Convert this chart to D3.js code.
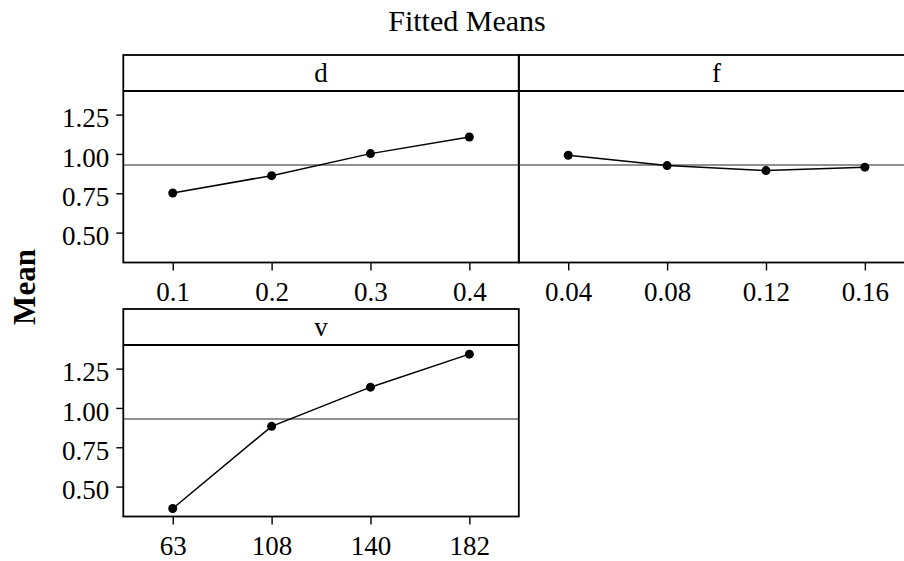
<!DOCTYPE html>
<html>
<head>
<meta charset="utf-8">
<script src="https://cdn.jsdelivr.net/npm/d3@7"></script>
<style>
  body { margin: 0; background: #fff; }
</style>
</head>
<body>
<div id="chart"></div>
<script>
// factor levels and fitted means
var panelNames = ["d", "f", "v"];
var dLevels = ["0.1", "0.2", "0.3", "0.4"];
var dMeans = [0.752, 0.862, 1.002, 1.108];
var fLevels = ["0.04", "0.08", "0.12", "0.16"];
var fMeans = [0.992, 0.926, 0.894, 0.916];
var vLevels = ["63", "108", "140", "182"];
var vMeans = [0.361, 0.883, 1.132, 1.342];
var grandMean = 0.93;
var yTicks = [0.50, 0.75, 1.00, 1.25];

var serif = '"Liberation Serif", "Times New Roman", serif';
var width = 904, height = 561;
var panelW = 395.5, stripH = 36, plotH = 171.5;

var svg = d3.select('#chart')
    .append('svg')
    .attr('width', width)
    .attr('height', height)
    .style('font-family', serif);

// panel layout
var panels = [
    { name: panelNames[0], levels: dLevels, means: dMeans, x: 123.3, y: 55, yaxis: true },
    { name: panelNames[1], levels: fLevels, means: fMeans, x: 518.8, y: 55, yaxis: false },
    { name: panelNames[2], levels: vLevels, means: vMeans, x: 123.3, y: 309, yaxis: true }
];

var y = d3.scaleLinear()
    .domain([0.31, 1.40])
    .range([plotH, 0]);

svg.append('text')
    .attr('x', 467)
    .attr('y', 31)
    .attr('text-anchor', 'middle')
    .style('font-family', serif)
    .style('font-size', '30px')
    .text('Fitted Means');

svg.append('text')
    .attr('transform', 'translate(35,287) rotate(-90)')
    .attr('text-anchor', 'middle')
    .style('font-family', serif)
    .style('font-size', '31px')
    .style('font-weight', 'bold')
    .text('Mean');

panels.forEach(function (p) {
    var g = svg.append('g')
        .attr('transform', 'translate(' + p.x + ',' + p.y + ')');

    var x = d3.scalePoint()
        .domain(p.levels)
        .range([0, panelW])
        .padding(0.5);

    var plot = g.append('g')
        .attr('transform', 'translate(0,' + stripH + ')');

    // x axis
    var xa = plot.append('g')
        .attr('transform', 'translate(0,' + plotH + ')')
        .call(d3.axisBottom(x).tickSize(8).tickPadding(11));
    xa.attr('font-family', null).attr('font-size', null);
    xa.select('.domain').remove();
    xa.selectAll('line').attr('stroke', '#000').attr('stroke-width', 1.4);
    xa.selectAll('text').style('font-family', serif).style('font-size', '27px');

    if (p.yaxis) {
        var ya = plot.append('g')
            .call(d3.axisLeft(y).tickValues(yTicks).tickFormat(d3.format('.2f')).tickSize(7).tickPadding(7));
        ya.attr('font-family', null).attr('font-size', null);
        ya.select('.domain').remove();
        ya.selectAll('line').attr('stroke', '#000').attr('stroke-width', 1.4);
        ya.selectAll('text').style('font-family', serif).style('font-size', '27px').attr('dy', '0.45em');
    }

    // grand mean reference line
    plot.append('line')
        .attr('x1', 0)
        .attr('x2', panelW)
        .attr('y1', y(grandMean))
        .attr('y2', y(grandMean))
        .attr('stroke', '#222')
        .attr('stroke-width', 1.1);

    var pts = p.levels.map(function (l, i) { return { level: l, mean: p.means[i] }; });

    plot.append('path')
        .datum(pts)
        .attr('fill', 'none')
        .attr('stroke', '#000')
        .attr('stroke-width', 1.5)
        .attr('d', d3.line()
            .x(function (d) { return x(d.level); })
            .y(function (d) { return y(d.mean); }));

    plot.selectAll('circle')
        .data(pts)
        .enter()
        .append('circle')
        .attr('cx', function (d) { return x(d.level); })
        .attr('cy', function (d) { return y(d.mean); })
        .attr('r', 4.5)
        .attr('fill', '#000');

    // strip + panel borders
    g.append('rect')
        .attr('width', panelW)
        .attr('height', stripH + plotH)
        .attr('fill', 'none')
        .attr('stroke', '#000')
        .attr('stroke-width', 1.8);
    g.append('line')
        .attr('x1', 0)
        .attr('x2', panelW)
        .attr('y1', stripH)
        .attr('y2', stripH)
        .attr('stroke', '#000')
        .attr('stroke-width', 1.8);

    g.append('text')
        .attr('x', panelW / 2)
        .attr('y', 27)
        .attr('text-anchor', 'middle')
        .style('font-family', serif)
        .style('font-size', '27px')
        .text(p.name);
});
</script>
</body>
</html>
